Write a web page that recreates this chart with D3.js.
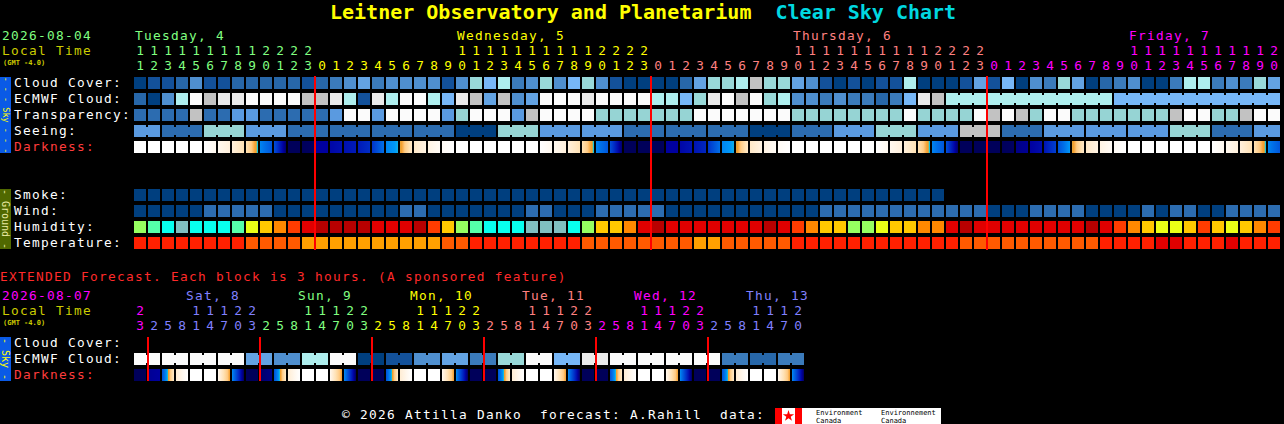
<!DOCTYPE html>
<html><head><meta charset="utf-8">
<script src="https://cdn.jsdelivr.net/npm/d3@7"></script>
<style>
html,body{margin:0;padding:0;background:#000;overflow:hidden}
svg{display:block}
text{font-family:"DejaVu Sans Mono","Liberation Mono",monospace;white-space:pre}
</style></head><body>
<svg id="c" width="1284" height="424"></svg>
<script>
// ---------------- DATA ----------------
const hours = [11,12,13,14,15,16,17,18,19,20,21,22,23,
  0,1,2,3,4,5,6,7,8,9,10,11,12,13,14,15,16,17,18,19,20,21,22,23,
  0,1,2,3,4,5,6,7,8,9,10,11,12,13,14,15,16,17,18,19,20,21,22,23,
  0,1,2,3,4,5,6,7,8,9,10,11,12,13,14,15,16,17,18,19,20];
const dayNames = ["Tuesday, 4","Wednesday, 5","Thursday, 6","Friday, 7"];
const dayColors = ["#80ff80","#ffff00","#ff8080","#ff00ff"];

// cloud cover, percent
const cloudCover = [0,10,10,20,40,10,10,20,20,20,20,20,10,20,
  30,40,50,30,40,40,40,40,10,40,70,60,80,30,40,70,40,60,70,40,10,0,0,
  0,0,20,50,70,70,80,90,70,70,50,40,10,0,10,0,10,10,80,0,0,0,10,50,
  10,60,0,40,30,70,50,0,20,30,40,0,0,30,80,80,30,40,30,70,50];
const ecmwfCloud = [20,0,40,80,100,90,95,95,100,100,100,100,90,90,
  95,80,10,95,80,100,100,80,60,95,90,50,90,40,50,100,100,100,95,100,100,100,100,
  80,80,60,70,95,100,90,100,70,80,40,40,30,40,30,30,20,30,60,95,90,80,80,80,
  80,80,80,80,80,80,80,80,80,60,60,60,60,60,60,60,60,60,60,60,60];
const ecmwfThreeHourlyFrom = 58;
// transparency: 0 too cloudy .. 5 transparent
const transparency = [4,4,4,4,1,4,4,3,3,4,4,4,4,4,
  3,0,0,3,0,0,0,0,3,2,0,0,0,3,1,0,0,0,0,2,2,2,2,
  2,2,2,0,0,0,0,0,0,0,2,2,2,2,2,2,2,2,0,2,2,2,2,0,
  1,0,1,2,0,0,2,2,2,2,2,2,2,1,0,0,2,2,1,0,0];
// seeing: 1 bad .. 5 excellent
const seeing = [3,3,4,4,4,2,2,2,3,3,3,4,4,4,
  4,4,4,4,4,4,4,4,4,5,5,5,2,2,2,3,3,3,3,3,3,4,4,
  4,4,4,4,4,4,4,5,5,5,4,4,4,3,3,3,2,2,2,3,3,3,1,1,
  1,4,4,4,3,3,3,3,3,3,3,3,3,2,2,2,4,4,4,3,3];
// darkness: limiting magnitude at start / end of each hour
const darkStart = [-4,-4,-4,-4,-4,-4,-3.5,-3,-2,1,2.5,6,6,
  5,4.8,4.5,4.2,3.4,1,0,-2.5,-3.2,-3.7,-4,-4,-4,-4,-4,-4,-4,-3.5,-3,-2,1,2.5,6,6,
  6,5,4.8,4.4,3.4,1,0,-2.5,-3.2,-3.7,-4,-4,-4,-4,-4,-4,-4,-3.5,-3,-2,1,2.5,6,6,
  6,6,5.4,5,4.4,2.5,0,-2.5,-3.2,-3.7,-4,-4,-4,-4,-4,-4,-4,-3.5,-3,-2,1];
const darkEnd = [-4,-4,-4,-4,-4,-3.5,-3,-2,0.2,2.3,5.8,6,5.9,
  5,4.5,4.2,3.6,1.5,0.3,-2.5,-3.2,-3.7,-4,-4,-4,-4,-4,-4,-4,-3.5,-3,-2,0.2,2.3,5.8,6,6,
  6,5,4.4,3.8,1.5,0.3,-2.5,-3.2,-3.7,-4,-4,-4,-4,-4,-4,-4,-3.5,-3,-2,0.2,2.3,5.8,6,6,
  6,5.9,5.2,4.6,3,0.5,-2.5,-3.2,-3.7,-4,-4,-4,-4,-4,-4,-4,-3.5,-3,-2,0.2,2.3];
// ground
const smoke = [0,0,0,0,0,0,0,0,0,0,0,0,0,0,0,0,0,0,0,0,0,0,0,0,0,0,0,0,0,0,
  0,0,0,0,0,0,0,0,0,0,0,0,0,0,0,0,0,0,0,0,0,0,0,0,0,0,0,0];
const wind = [3,3,3,3,3,8,8,8,8,8,3,3,3,3,
  3,3,3,3,3,8,8,3,3,3,3,3,3,3,8,8,3,3,3,8,8,8,8,
  8,3,3,3,3,3,3,3,3,3,3,3,8,8,8,8,8,8,8,8,8,8,8,8,
  3,3,3,8,8,8,8,3,3,3,3,8,3,8,8,3,3,8,8,8,8];
const humidity = [62,57,52,47,52,52,52,57,67,72,77,82,87,92,
  92,92,92,87,87,87,92,82,72,62,57,52,52,52,47,47,47,52,62,72,72,77,87,
  92,87,87,87,87,87,87,87,92,87,82,77,72,72,62,62,67,72,72,77,77,87,92,87,
  87,87,87,87,87,87,87,92,87,82,77,72,67,67,72,82,72,67,72,77,82];
const temperature = [77,77,77,77,77,77,77,77,70,70,70,70,63,63,
  63,63,63,63,63,63,63,63,70,70,77,77,77,77,77,77,77,77,70,70,70,70,70,
  70,70,70,63,63,70,70,70,70,70,77,77,77,77,77,77,77,77,77,77,77,77,70,70,
  70,70,70,70,70,70,70,70,77,77,77,77,84,84,77,77,77,84,77,77,77];

// extended forecast (3-hour blocks)
const extHours = [23,
  2,5,8,11,14,17,20,23, 2,5,8,11,14,17,20,23, 2,5,8,11,14,17,20,23,
  2,5,8,11,14,17,20,23, 2,5,8,11,14,17,20,23, 2,5,8,11,14,17,20];
const extDayNames = ["", "Sat, 8","Sun, 9","Mon, 10","Tue, 11","Wed, 12","Thu, 13"];
const extDayColors = ["#ff00ff","#8080ff","#80ff80","#ffff00","#ff8080","#ff00ff","#8080ff"];
const extEcmwf = [100,100,100,100,100,100,100,100,50,50,40,40,80,80,100,100,0,0,10,10,
  40,40,50,50,30,30,70,70,100,100,60,60,95,95,100,100,100,100,100,100,100,100,30,30,20,20,30,30];
const extDarkStart = [6,
  5.2,2.5,-2.8,-4,-4,-3.5,0.8,6, 5.8,2.5,-2.8,-4,-4,-3.5,0.8,6, 6,2.5,-2.8,-4,-4,-3.5,0.8,6,
  6,2.5,-2.8,-4,-4,-3.5,0.8,6, 6,2.5,-2.8,-4,-4,-3.5,0.8,6, 6,2.5,-2.8,-4,-4,-3.5,0.8];
const extDarkEnd = [6,
  5,-2.5,-4,-4,-4,-0.3,6,6, 5.4,-2.5,-4,-4,-4,-0.3,6,6, 6,-2.5,-4,-4,-4,-0.3,6,6,
  6,-2.5,-4,-4,-4,-0.3,6,6, 6,-2.5,-4,-4,-4,-0.3,6,6, 6,-2.5,-4,-4,-4,-0.3,6];

// ---------------- SCALES ----------------
const cloudColor = d3.scaleOrdinal()
  .domain([0,10,20,30,40,50,60,70,80,90,95,100])
  .range(["#003f7f","#13519a","#2767a9","#3b7bbb","#4f8fcf","#63a3e3","#77b7f7","#99d9d9","#aeeeee","#c2c2c2","#eaeaea","#fbfbfb"]);
const qualColor = d3.scaleOrdinal().domain([0,1,2,3,4,5])
  .range(["#fbfbfb","#c2c2c2","#96d4d4","#5a9ae0","#2c6cb0","#003f7f"]);
const smokeColor = d3.scaleThreshold().domain([2,5,10]).range(["#003f7f","#2c6cb0","#5a9ae0","#96d4d4"]);
const windColor = d3.scaleThreshold().domain([6,12,17,29,46]).range(["#003f7f","#2c6cb0","#5a9ae0","#96d4d4","#c2c2c2","#fbfbfb"]);
const humColor = d3.scaleThreshold().domain([50,55,60,65,70,75,80,85,90])
  .range(["#80c0c0","#08ffee","#55ffaa","#96ff60","#eaff16","#ffc800","#ff8800","#ff3c00","#e00000","#b80000"]);
const tempColor = d3.scaleThreshold().domain([66,73,80]).range(["#ffa000","#ff5a00","#ff2000","#e00000"]);
const darkColor = d3.scaleLinear()
  .domain([-4,-3.5,-3,-2,-1,-0.35,-0.1,0,0.5,1.5,2.5,3.5,4.5,5,5.5,6,6.5])
  .range(["#ffffff","#fff8ef","#fff0dc","#ffe2b5","#ffcb85","#f5a030","#f0a030","#20d0d0","#0098f8","#0070e8","#0050d8","#0030c8","#0010b0","#0000a0","#000080","#00005a","#000048"])
  .clamp(true);

const xMain = d3.scaleBand().domain(d3.range(hours.length)).range([134, 134 + hours.length*14 - 2]).paddingInner(2/14);
const xExt = d3.scaleBand().domain(d3.range(extHours.length)).range([134, 134 + extHours.length*14 - 2]).paddingInner(2/14);
const ySky = d3.scaleBand().domain(["cloud","ecmwf","transp","seeing","dark"]).range([77, 77+5*16-4]).paddingInner(4/16);
const yGround = d3.scaleBand().domain(["smoke","wind","hum","temp"]).range([189, 189+4*16-4]).paddingInner(4/16);
const yExt = d3.scaleBand().domain(["cloud","ecmwf","dark"]).range([337, 337+3*16-4]).paddingInner(4/16);

// ---------------- DRAW ----------------
const FS = 12.8;                       // font size
const LS = 9 - FS * 0.6021;            // letter spacing to keep 9px per character
const svg = d3.select("#c");
svg.append("rect").attr("width",1284).attr("height",424).attr("fill","#000");
const defs = svg.append("defs");

function txt(x, y, s, color, size, extra) {
  const t = svg.append("text").attr("x", x).attr("y", y).attr("fill", color)
    .attr("font-size", size).attr("xml:space","preserve").text(s);
  if (extra) extra(t);
  return t;
}
const spaced = t => t.attr("letter-spacing", LS);

function dayIndex(hs) {
  let d = 0; return hs.map((h,i) => { if (i>0 && h < hs[i-1]) d++; return d; });
}

function drawRow(values, xs, y, h, colorOf, joinPrev) {
  const g = svg.append("g");
  const data = values.map((v,i) => ({v,i}));
  const gap = xs.step() - xs.bandwidth();
  g.selectAll("rect.j").data(data.filter(d => d.i > 0 && joinPrev(d.i))).join("rect")
    .attr("x", d => xs(d.i) - gap).attr("y", y + 2).attr("width", gap).attr("height", h - 4)
    .attr("fill", d => colorOf(d.v, d.i));
  g.selectAll("rect.b").data(data).join("rect")
    .attr("x", d => xs(d.i)).attr("y", y).attr("width", xs.bandwidth()).attr("height", h)
    .attr("fill", d => colorOf(d.v, d.i));
}

function darkGrad(id, s, e) {
  const lg = defs.append("linearGradient").attr("id", id).attr("x1","0").attr("x2","1").attr("y1","0").attr("y2","0");
  const N = 24;
  d3.range(N).forEach(k => {
    const t = k/(N-1);
    lg.append("stop").attr("offset", t).attr("stop-color", darkColor(s + (e-s)*t));
  });
}

// Title
const title = svg.append("text").attr("x", 330).attr("y", 19).attr("font-size", 20).attr("font-weight","bold").attr("xml:space","preserve");
title.append("tspan").attr("fill","#ffff00").text("Leitner Observatory and Planetarium");
title.append("tspan").attr("fill","#00d8e0").text("  Clear Sky Chart");

// Header (main)
txt(2, 40, "2026-08-04", dayColors[0], FS, spaced);
txt(2, 55, "Local Time", "#cccc00", FS, spaced);
txt(3, 65, "(GMT -4.0)", "#cccc00", 7, t => t.attr("font-weight","bold"));

const mainDay = dayIndex(hours);
hours.forEach((h,i) => {
  const cx = xMain(i) + xMain.bandwidth()/2;
  const col = dayColors[mainDay[i]];
  if (h >= 10) txt(cx, 55, String(Math.floor(h/10)), col, FS, t => t.attr("text-anchor","middle"));
  txt(cx, 70, String(h % 10), col, FS, t => t.attr("text-anchor","middle"));
});
dayNames.forEach((name, d) => {
  const i = hours.findIndex((h,k) => mainDay[k] === d && h >= 10);
  txt(xMain(i) + 1, 40, name, dayColors[d], FS, spaced);
});

// Side bars
function sideBar(y0, y1, fill, label, color, size) {
  svg.append("rect").attr("x", 0).attr("y", y0).attr("width", 11).attr("height", y1 - y0).attr("fill", fill);
  svg.append("text").attr("transform", `translate(5.5,${(y0+y1)/2}) rotate(90)`)
    .attr("text-anchor","middle").attr("dominant-baseline","central")
    .attr("fill", color).attr("font-size", size).attr("xml:space","preserve").text(label);
}
sideBar(77, 153, "#0a5ae6", "- - - Sky - - -", "#ffff00", 8.5);
sideBar(189, 249, "#506800", "- Ground -", "#e8e8a0", 10);
sideBar(337, 381, "#0a5ae6", "- Sky -", "#ffff00", 10);

// Row labels
const skyLabels = [["Cloud Cover:","#ffffff"],["ECMWF Cloud:","#ffffff"],["Transparency:","#ffffff"],["Seeing:","#ffffff"],["Darkness:","#ff3c3c"]];
ySky.domain().forEach((k,r) => txt(14, ySky(k) + 10, skyLabels[r][0], skyLabels[r][1], FS, spaced));
const groundLabels = ["Smoke:","Wind:","Humidity:","Temperature:"];
yGround.domain().forEach((k,r) => txt(14, yGround(k) + 10, groundLabels[r], "#ffffff", FS, spaced));

// Sky rows
const bh = ySky.bandwidth();
drawRow(cloudCover, xMain, ySky("cloud"), bh, v => cloudColor(v), () => false);
drawRow(ecmwfCloud, xMain, ySky("ecmwf"), bh, v => cloudColor(v),
  i => i >= ecmwfThreeHourlyFrom && ecmwfCloud[i] === ecmwfCloud[i-1]);
drawRow(transparency, xMain, ySky("transp"), bh, v => qualColor(v), () => false);
drawRow(seeing, xMain, ySky("seeing"), bh, v => qualColor(v),
  i => hours[i] % 3 !== 1 && seeing[i] === seeing[i-1]);
darkStart.forEach((s,i) => darkGrad("dm" + i, s, darkEnd[i]));
drawRow(darkStart, xMain, ySky("dark"), bh, (v,i) => `url(#dm${i})`, () => false);

// Ground rows
drawRow(smoke, xMain, yGround("smoke"), bh, v => smokeColor(v), () => false);
drawRow(wind, xMain, yGround("wind"), bh, v => windColor(v), () => false);
drawRow(humidity, xMain, yGround("hum"), bh, v => humColor(v), () => false);
drawRow(temperature, xMain, yGround("temp"), bh, v => tempColor(v), () => false);

// Midnight lines (main)
svg.append("g").selectAll("rect").data(d3.range(hours.length).filter(i => hours[i] === 0)).join("rect")
  .attr("x", i => xMain(i) - 2).attr("y", 76).attr("width", 2).attr("height", 174).attr("fill", "#ff0000");

// Extended section
txt(0, 281, "EXTENDED Forecast. Each block is 3 hours. (A sponsored feature)", "#ff2a2a", FS, spaced);
txt(2, 300, "2026-08-07", extDayColors[0], FS, spaced);
txt(2, 315, "Local Time", "#cccc00", FS, spaced);
txt(3, 325, "(GMT -4.0)", "#cccc00", 7, t => t.attr("font-weight","bold"));
const extDay = dayIndex(extHours);
extHours.forEach((h,i) => {
  const cx = xExt(i) + xExt.bandwidth()/2;
  const col = extDayColors[extDay[i]];
  if (h >= 10) txt(cx, 315, String(Math.floor(h/10)), col, FS, t => t.attr("text-anchor","middle"));
  txt(cx, 330, String(h % 10), col, FS, t => t.attr("text-anchor","middle"));
});
extDayNames.forEach((name, d) => {
  if (!name) return;
  const i = extHours.findIndex((h,k) => extDay[k] === d && h >= 10);
  txt(xExt(i) - 4, 300, name, extDayColors[d], FS, spaced);
});
const extLabels = [["Cloud Cover:","#ffffff"],["ECMWF Cloud:","#ffffff"],["Darkness:","#ff3c3c"]];
yExt.domain().forEach((k,r) => txt(14, yExt(k) + 10, extLabels[r][0], extLabels[r][1], FS, spaced));
drawRow(extEcmwf, xExt, yExt("ecmwf"), bh, v => cloudColor(v), i => i % 2 === 1);
extDarkStart.forEach((s,i) => darkGrad("de" + i, s, extDarkEnd[i]));
drawRow(extDarkStart, xExt, yExt("dark"), bh, (v,i) => `url(#de${i})`, () => false);
svg.append("g").selectAll("rect").data(d3.range(1, extHours.length).filter(i => extDay[i] !== extDay[i-1])).join("rect")
  .attr("x", i => xExt(i) - 1).attr("y", 337).attr("width", 2).attr("height", 44).attr("fill", "#ff0000");

// Footer
txt(342, 419, "© 2026 Attilla Danko  forecast: A.Rahill  data:", "#ffffff", FS, spaced);
svg.append("rect").attr("x", 775).attr("y", 408).attr("width", 166).attr("height", 16).attr("fill", "#ffffff");
svg.append("rect").attr("x", 775).attr("y", 408).attr("width", 7).attr("height", 16).attr("fill", "#ff0000");
svg.append("rect").attr("x", 795).attr("y", 408).attr("width", 7).attr("height", 16).attr("fill", "#ff0000");
svg.append("path").attr("d", d3.symbol(d3.symbolStar, 40)()).attr("transform","translate(788.5,416)").attr("fill","#ff0000");
const small = t => t.attr("font-family", "'Liberation Sans', Arial, sans-serif");
txt(816, 415, "Environment", "#000", 7, small);
txt(816, 422.5, "Canada", "#000", 7, small);
txt(881, 415, "Environnement", "#000", 7, small);
txt(881, 422.5, "Canada", "#000", 7, small);
</script>
</body></html>
